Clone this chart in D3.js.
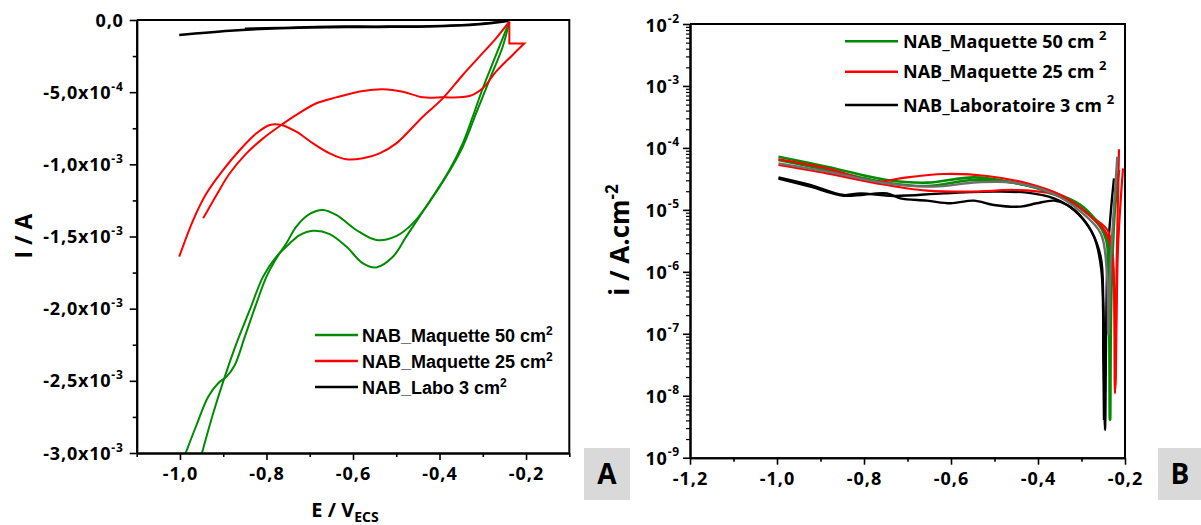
<!DOCTYPE html>
<html><head><meta charset="utf-8">
<script src="https://cdn.jsdelivr.net/npm/d3@7"></script>
<style>body{margin:0;background:#fff}svg{display:block}</style>
</head><body>
<svg id="c" width="1201" height="525"></svg>
<script>
// ---------- Panel A: cyclic voltammetry, E (V/ECS) vs I (A) ----------
const cvGreenA = [[-0.987,-3.002e-3],[-0.9617,-2.806e-3],[-0.9347,-2.610e-3],[-0.9117,-2.517e-3],[-0.8924,-2.471e-3],[-0.8732,-2.390e-3],[-0.850,-2.194e-3],[-0.8232,-1.963e-3],[-0.800,-1.778e-3],[-0.777,-1.651e-3],[-0.754,-1.547e-3],[-0.731,-1.432e-3],[-0.700,-1.344e-3],[-0.6694,-1.316e-3],[-0.6386,-1.351e-3],[-0.5924,-1.455e-3],[-0.5463,-1.524e-3],[-0.500,-1.497e-3],[-0.4617,-1.409e-3],[-0.423,-1.259e-3],[-0.3847,-1.085e-3],[-0.3463,-0.878e-3],[-0.3155,-0.647e-3],[-0.2848,-0.416e-3],[-0.254,-0.185e-3],[-0.2386,-0.012e-3]];
const cvGreenB = [[-0.9493,-3.002e-3],[-0.9232,-2.725e-3],[-0.8963,-2.471e-3],[-0.8694,-2.240e-3],[-0.8386,-2.009e-3],[-0.8078,-1.778e-3],[-0.777,-1.640e-3],[-0.754,-1.570e-3],[-0.7232,-1.490e-3],[-0.6924,-1.460e-3],[-0.654,-1.483e-3],[-0.6155,-1.570e-3],[-0.577,-1.686e-3],[-0.5463,-1.714e-3],[-0.5078,-1.640e-3],[-0.477,-1.501e-3],[-0.4463,-1.363e-3],[-0.408,-1.189e-3],[-0.377,-1.039e-3],[-0.3463,-0.855e-3],[-0.3232,-0.670e-3],[-0.300,-0.473e-3],[-0.2694,-0.242e-3],[-0.2386,-0.012e-3]];
const cvRedA = [[-0.9463,-1.374e-3],[-0.9155,-1.212e-3],[-0.8848,-1.062e-3],[-0.8463,-0.924e-3],[-0.8078,-0.820e-3],[-0.7655,-0.727e-3],[-0.731,-0.658e-3],[-0.6847,-0.577e-3],[-0.6386,-0.536e-3],[-0.577,-0.492e-3],[-0.531,-0.480e-3],[-0.4847,-0.497e-3],[-0.4386,-0.536e-3],[-0.3924,-0.536e-3],[-0.331,-0.527e-3],[-0.300,-0.473e-3],[-0.2694,-0.358e-3],[-0.231,-0.242e-3],[-0.204,-0.162e-3],[-0.2386,-0.162e-3],[-0.2386,-0.012e-3]];
const cvRedB = [[-0.2386,-0.012e-3],[-0.2694,-0.127e-3],[-0.3078,-0.254e-3],[-0.3463,-0.381e-3],[-0.3924,-0.543e-3],[-0.4386,-0.670e-3],[-0.500,-0.855e-3],[-0.5386,-0.924e-3],[-0.577,-0.958e-3],[-0.6155,-0.965e-3],[-0.654,-0.924e-3],[-0.6924,-0.855e-3],[-0.731,-0.774e-3],[-0.7655,-0.727e-3],[-0.7924,-0.727e-3],[-0.8232,-0.785e-3],[-0.8617,-0.901e-3],[-0.900,-1.039e-3],[-0.9386,-1.201e-3],[-0.9694,-1.386e-3],[-1.0017,-1.640e-3]];
const cvBlackA = [[-1.0017,-0.104e-3],[-0.885,-0.074e-3],[-0.769,-0.058e-3],[-0.654,-0.051e-3],[-0.539,-0.048e-3],[-0.423,-0.046e-3],[-0.308,-0.030e-3],[-0.239,-0.005e-3]];
const cvBlackB = [[-0.239,-0.005e-3],[-0.331,-0.030e-3],[-0.423,-0.040e-3],[-0.539,-0.043e-3],[-0.654,-0.043e-3],[-0.769,-0.052e-3],[-0.850,-0.058e-3]];
const cvTicksI = [0,-5e-4,-1e-3,-1.5e-3,-2e-3,-2.5e-3,-3e-3];
const cvTicksE = [-1.0,-0.8,-0.6,-0.4,-0.2];
const cvLegend = ["NAB_Maquette 50 cm", "NAB_Maquette 25 cm", "NAB_Labo 3 cm"];

// ---------- Panel B: Tafel plot, E vs log10 i (A/cm2) ----------
const tfGreen1 = [[-0.9966,-4.141],[-0.8853,-4.303],[-0.7472,-4.518],[-0.6551,-4.561],[-0.5476,-4.475],[-0.4555,-4.561],[-0.3634,-4.722],[-0.302,-4.921],[-0.2636,-5.190],[-0.2406,-5.432],[-0.2368,-6.401],[-0.2345,-8.391],[-0.2314,-6.40],[-0.2238,-5.056],[-0.2138,-4.356]];
const tfGreen2 = [[-0.9966,-4.195],[-0.8853,-4.356],[-0.7472,-4.561],[-0.6551,-4.615],[-0.5476,-4.518],[-0.4555,-4.561],[-0.3634,-4.744],[-0.302,-4.975],[-0.2483,-5.379],[-0.2375,-6.2],[-0.2345,-8.391]];
const tfRed1 = [[-0.9966,-4.184],[-0.8853,-4.330],[-0.7702,-4.545],[-0.7165,-4.491],[-0.6167,-4.421],[-0.5169,-4.453],[-0.4248,-4.572],[-0.3481,-4.760],[-0.2866,-5.056],[-0.2483,-5.325],[-0.2368,-5.486],[-0.2268,-5.970],[-0.2230,-7.961],[-0.2191,-5.863],[-0.2138,-4.023]];
const tfRed2 = [[-0.9966,-4.276],[-0.8853,-4.410],[-0.7702,-4.572],[-0.6551,-4.690],[-0.5476,-4.706],[-0.4555,-4.679],[-0.3788,-4.722],[-0.3250,-4.867],[-0.2713,-5.136],[-0.2406,-5.325],[-0.2291,-5.648],[-0.2225,-7.9],[-0.2160,-5.6],[-0.2046,-4.330]];
const tfGray = [[-0.9966,-4.249],[-0.8853,-4.383],[-0.7472,-4.572],[-0.6397,-4.625],[-0.5399,-4.555],[-0.4555,-4.561],[-0.3634,-4.744],[-0.302,-5.029],[-0.2559,-5.379],[-0.2421,-5.970],[-0.2383,-7.019],[-0.2329,-5.863],[-0.2176,-4.141]];
const tfBlack1 = [[-0.9966,-4.475],[-0.9237,-4.598],[-0.8469,-4.760],[-0.8086,-4.733],[-0.7318,-4.776],[-0.6167,-4.733],[-0.5016,-4.706],[-0.4248,-4.722],[-0.3634,-4.814],[-0.3174,-5.002],[-0.2790,-5.325],[-0.2559,-5.755],[-0.2498,-6.508],[-0.2460,-8.553],[-0.2406,-5.863],[-0.2329,-5.056],[-0.2253,-4.491]];
const tfBlack2 = [[-0.9966,-4.496],[-0.9237,-4.625],[-0.8469,-4.771],[-0.7472,-4.733],[-0.7165,-4.814],[-0.6551,-4.851],[-0.6012,-4.894],[-0.5476,-4.851],[-0.5016,-4.921],[-0.4402,-4.948],[-0.4033,-4.894],[-0.3634,-4.851],[-0.3327,-4.921],[-0.302,-5.099],[-0.2713,-5.432],[-0.2544,-5.970],[-0.2498,-7.477],[-0.2483,-8.391]];
const tfTicksE = [-1.2,-1.0,-0.8,-0.6,-0.4,-0.2];
const tfTicksExp = [-2,-3,-4,-5,-6,-7,-8,-9];
const tfLegend = ["NAB_Maquette 50 cm", "NAB_Maquette 25 cm", "NAB_Laboratoire 3 cm"];

const GREEN = "#008c00", RED = "#ff0000", BLACK = "#000000", GRAY = "#6e6e6e";
const svg = d3.select("#c");
const tickFont = "'Open Sans', sans-serif";
const loc = d3.formatLocale({decimal: ",", thousands: ".", grouping: [3], currency: ["", ""], minus: "-"});
const comma = loc.format(".1f");

// ================= Panel A =================
const xL = d3.scaleLinear().domain([-1.1, -0.1]).range([136.7, 569.3]);
const yL = d3.scaleLinear().domain([-3e-3, 0]).range([453, 20]);
const gA = svg.append("g");
gA.append("clipPath").attr("id", "clipA").append("rect")
  .attr("x", xL(-1.1)).attr("y", yL(0)).attr("width", xL(-0.1) - xL(-1.1)).attr("height", yL(-3e-3) - yL(0));

const lineL = d3.line().x(d => xL(d[0])).y(d => yL(d[1])).curve(d3.curveCatmullRom.alpha(0.5));
const lineLLin = d3.line().x(d => xL(d[0])).y(d => yL(d[1]));
const curvesA = gA.append("g").attr("clip-path", "url(#clipA)");
[[cvBlackA, BLACK, 2.4], [cvBlackB, BLACK, 1.6], [cvGreenA, GREEN, 2], [cvGreenB, GREEN, 2]].forEach(([d, c, w]) => {
  curvesA.append("path").attr("d", lineL(d)).attr("fill", "none").attr("stroke", c).attr("stroke-width", w).attr("stroke-linejoin", "round");
});
curvesA.append("path").attr("d", lineL(cvRedA.slice(0, 19)) + lineLLin(cvRedA.slice(18)).replace("M", "L")).attr("fill", "none").attr("stroke", RED).attr("stroke-width", 2).attr("stroke-linejoin", "miter");
curvesA.append("path").attr("d", lineL(cvRedB)).attr("fill", "none").attr("stroke", RED).attr("stroke-width", 2);

// axes A
const axLB = d3.axisBottom(xL).tickValues(cvTicksE).tickSize(7).tickSizeOuter(0).tickFormat(comma);
const axLBm = d3.axisBottom(xL).tickValues([-1.1, -0.9, -0.7, -0.5, -0.3, -0.1]).tickSize(4).tickSizeOuter(0).tickFormat("");
const axLL = d3.axisLeft(yL).tickValues(cvTicksI).tickSize(7).tickSizeOuter(0).tickFormat("");
const axLLm = d3.axisLeft(yL).tickValues(d3.range(1, 12, 2).map(k => -k * 2.5e-4)).tickSize(4).tickSizeOuter(0).tickFormat("");
function styleAxis(g) {
  g.select(".domain").attr("stroke", "#000").attr("stroke-width", 2);
  g.selectAll(".tick line").attr("stroke", "#000").attr("stroke-width", 1.6);
  g.selectAll("text").attr("font-family", tickFont).attr("font-weight", "bold").attr("font-size", 18).attr("fill", "#000").attr("letter-spacing", 1);
}
gA.append("g").attr("transform", `translate(0,${yL(-3e-3)})`).call(axLBm).call(styleAxis);
gA.append("g").attr("transform", `translate(0,${yL(-3e-3)})`).call(axLB).call(styleAxis).selectAll("text").attr("dy", "0.95em");
gA.append("g").attr("transform", `translate(${xL(-1.1)},0)`).call(axLLm).call(styleAxis);
const gYL = gA.append("g").attr("transform", `translate(${xL(-1.1)},0)`).call(axLL).call(styleAxis);
gYL.selectAll(".tick").each(function (v) {
  const t = d3.select(this).append("text").attr("x", -13).attr("y", 6).attr("text-anchor", "end")
    .attr("font-family", tickFont).attr("font-weight", "bold").attr("font-size", 18).attr("letter-spacing", 0.8).attr("fill", "#000");
  if (v === 0) { t.text("0,0"); return; }
  const e = Math.floor(Math.log10(Math.abs(v)) + 1e-9);
  const m = v / Math.pow(10, e);
  t.append("tspan").text(comma(m) + "x10");
  t.append("tspan").attr("dy", -8).attr("font-size", 12).text(String(e));
});
gA.append("path").attr("d", `M${xL(-1.1)},${yL(0)}H${xL(-0.1)}V${yL(-3e-3)}`).attr("fill", "none").attr("stroke", "#000").attr("stroke-width", 2);

// titles A
gA.append("text").attr("transform", `translate(32,236) rotate(-90)`).attr("text-anchor", "middle")
  .attr("font-family", tickFont).attr("font-weight", "bold").attr("font-size", 23).text("I / A");
const xtA = gA.append("text").attr("x", 345).attr("y", 517).attr("text-anchor", "middle")
  .attr("font-family", tickFont).attr("font-weight", "bold").attr("font-size", 20);
xtA.append("tspan").text("E / V");
xtA.append("tspan").attr("dy", 5).attr("font-size", 14).text("ECS");

// legend A
const legA = gA.append("g");
[GREEN, RED, BLACK].forEach((c, i) => {
  const y = 335 + i * 26;
  legA.append("line").attr("x1", 315).attr("x2", 358).attr("y1", y).attr("y2", y).attr("stroke", c).attr("stroke-width", 2.4);
  const t = legA.append("text").attr("x", 362).attr("y", y + 6.5).attr("font-family", "'Liberation Sans', Arial, sans-serif")
    .attr("font-weight", "bold").attr("font-size", 18).attr("fill", "#000");
  t.append("tspan").text(cvLegend[i]);
  t.append("tspan").attr("dy", -7).attr("font-size", 12).text("2");
});

// label box A
gA.append("rect").attr("x", 584).attr("y", 448).attr("width", 46).attr("height", 52).attr("fill", "#d9d9d9");
gA.append("text").attr("x", 607).attr("y", 484).attr("text-anchor", "middle").attr("font-family", tickFont)
  .attr("font-weight", "bold").attr("font-size", 28).text("A");

// ================= Panel B =================
const xR = d3.scaleLinear().domain([-1.2, -0.2]).range([690, 1125]);
const yR = d3.scaleLog().domain([1e-9, 1e-2]).range([457.7, 24]);
const gB = svg.append("g");
gB.append("clipPath").attr("id", "clipB").append("rect")
  .attr("x", 690).attr("y", 24).attr("width", 435).attr("height", 433.7);
const lineR = d3.line().x(d => xR(d[0])).y(d => yR(Math.pow(10, d[1]))).curve(d3.curveCatmullRom.alpha(0.5));
const curvesB = gB.append("g").attr("clip-path", "url(#clipB)");
[[tfBlack2, BLACK, 2.4], [tfBlack1, BLACK, 2.4], [tfRed2, RED, 2.2], [tfGreen2, GREEN, 2.6], [tfGreen1, GREEN, 2.6],
 [tfRed1, RED, 2.2], [tfGray, GRAY, 2.4]].forEach(([d, c, w]) => {
  curvesB.append("path").attr("d", lineR(d)).attr("fill", "none").attr("stroke", c).attr("stroke-width", w).attr("stroke-linejoin", "round");
});

const axRB = d3.axisBottom(xR).tickValues(tfTicksE).tickSize(7).tickSizeOuter(0).tickFormat(comma);
const axRBm = d3.axisBottom(xR).tickValues([-1.1, -0.9, -0.7, -0.5, -0.3]).tickSize(4).tickSizeOuter(0).tickFormat("");
const majorR = tfTicksExp.map(e => Math.pow(10, e));
const minorR = [];
tfTicksExp.slice(1).forEach(e => { for (let k = 2; k <= 9; k++) minorR.push(k * Math.pow(10, e)); });
const axRL = d3.axisLeft(yR).tickValues(majorR).tickSize(7).tickSizeOuter(0).tickFormat("");
const axRLm = d3.axisLeft(yR).tickValues(minorR).tickSize(4).tickSizeOuter(0).tickFormat("");
gB.append("g").attr("transform", `translate(0,457.7)`).call(axRBm).call(styleAxis);
gB.append("g").attr("transform", `translate(0,457.7)`).call(axRB).call(styleAxis).selectAll("text").attr("dy", "0.95em");
gB.append("g").attr("transform", `translate(690,0)`).call(axRLm).call(styleAxis).selectAll(".tick line").attr("stroke-width", 1.2);
const gYR = gB.append("g").attr("transform", `translate(690,0)`).call(axRL).call(styleAxis);
gYR.selectAll(".tick").each(function (v) {
  const e = Math.round(Math.log10(v));
  const t = d3.select(this).append("text").attr("x", -10).attr("y", 7).attr("text-anchor", "end")
    .attr("font-family", tickFont).attr("font-weight", "bold").attr("font-size", 18).attr("letter-spacing", 0.8).attr("fill", "#000");
  t.append("tspan").text("10");
  t.append("tspan").attr("dy", -9).attr("font-size", 12).text(String(e));
});
gB.append("path").attr("d", `M690,24H1125V457.7`).attr("fill", "none").attr("stroke", "#000").attr("stroke-width", 2);

// titles B
const ytB = gB.append("text").attr("transform", `translate(629,240) rotate(-90)`).attr("text-anchor", "middle")
  .attr("font-family", tickFont).attr("font-weight", "bold").attr("font-size", 26);
ytB.append("tspan").text("i / A.cm");
ytB.append("tspan").attr("dy", -11).attr("font-size", 17).text("-2");

// legend B
const legB = gB.append("g");
[GREEN, RED, BLACK].forEach((c, i) => {
  const y = [41.3, 71.7, 105][i];
  legB.append("line").attr("x1", 845).attr("x2", 898).attr("y1", y).attr("y2", y).attr("stroke", c).attr("stroke-width", 2.6);
  const t = legB.append("text").attr("x", 903).attr("y", y + 6.5).attr("font-family", tickFont)
    .attr("font-weight", "bold").attr("font-size", 18).attr("fill", "#000");
  t.append("tspan").text(tfLegend[i] + " ");
  t.append("tspan").attr("dy", -8).attr("font-size", 13).text("2");
});

// label box B
gB.append("rect").attr("x", 1158).attr("y", 448).attr("width", 43).attr("height", 52).attr("fill", "#d9d9d9");
gB.append("text").attr("x", 1180).attr("y", 484).attr("text-anchor", "middle").attr("font-family", tickFont)
  .attr("font-weight", "bold").attr("font-size", 28).text("B");
</script>
</body></html>
